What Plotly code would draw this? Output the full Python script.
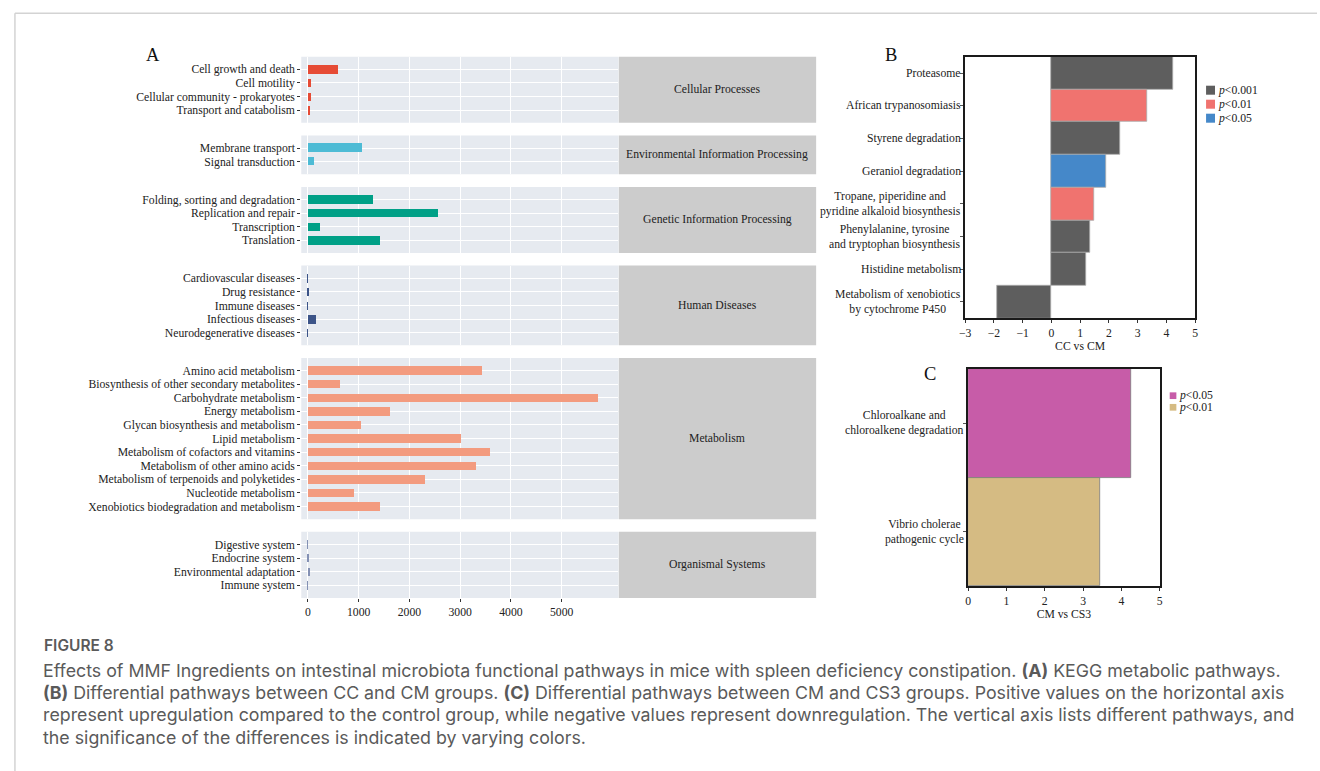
import plotly.graph_objects as go

W, H = 1320, 771
SERIF = "Liberation Serif"
SANS = "Inter"
TXT = "#222222"

# ---------------- Panel A: KEGG pathway abundance by level-1 category ----------------
kegg_groups = [
    "Cellular Processes",
    "Environmental Information Processing",
    "Genetic Information Processing",
    "Human Diseases",
    "Metabolism",
    "Organismal Systems",
]
cellular_pathways = ["Cell growth and death", "Cell motility",
                     "Cellular community - prokaryotes", "Transport and catabolism"]
cellular_values = [590, 65, 60, 50]
environmental_pathways = ["Membrane transport", "Signal transduction"]
environmental_values = [1070, 130]
genetic_pathways = ["Folding, sorting and degradation", "Replication and repair",
                    "Transcription", "Translation"]
genetic_values = [1290, 2570, 250, 1420]
disease_pathways = ["Cardiovascular diseases", "Drug resistance", "Immune diseases",
                    "Infectious diseases", "Neurodegenerative diseases"]
disease_values = [3, 35, 2, 170, 4]
metabolism_pathways = ["Amino acid metabolism", "Biosynthesis of other secondary metabolites",
                       "Carbohydrate metabolism", "Energy metabolism",
                       "Glycan biosynthesis and metabolism", "Lipid metabolism",
                       "Metabolism of cofactors and vitamins", "Metabolism of other amino acids",
                       "Metabolism of terpenoids and polyketides", "Nucleotide metabolism",
                       "Xenobiotics biodegradation and metabolism"]
metabolism_values = [3445, 645, 5720, 1625, 1055, 3030, 3600, 3310, 2315, 905, 1425]
organismal_pathways = ["Digestive system", "Endocrine system",
                       "Environmental adaptation", "Immune system"]
organismal_values = [3, 15, 55, 3]
group_colors = ["#E64B35", "#4DBBD5", "#00A087", "#3C5488", "#F39B7F", "#8491B4"]
a_ticks = [0, 1000, 2000, 3000, 4000, 5000]

# ---------------- Panel B: CC vs CM ----------------
b_pathways = ["Proteasome", "African trypanosomiasis", "Styrene degradation",
              "Geraniol degradation",
              "Tropane, piperidine and<br>pyridine alkaloid biosynthesis",
              "Phenylalanine, tyrosine<br>and tryptophan biosynthesis",
              "Histidine metabolism",
              "Metabolism of xenobiotics<br>by cytochrome P450"]
b_values = [4.22, 3.32, 2.40, 1.92, 1.48, 1.36, 1.20, -1.89]
b_significance = ["p<0.001", "p<0.01", "p<0.001", "p<0.05", "p<0.01",
                  "p<0.001", "p<0.001", "p<0.001"]
b_levels = ["p<0.001", "p<0.01", "p<0.05"]
b_level_colors = ["#5E5E5E", "#F0736F", "#4588C9"]

# ---------------- Panel C: CM vs CS3 ----------------
c_pathways = ["Chloroalkane and<br>chloroalkene degradation",
              "Vibrio cholerae<br>pathogenic cycle"]
c_values = [4.24, 3.45]
c_significance = ["p<0.05", "p<0.01"]
c_levels = ["p<0.05", "p<0.01"]
c_level_colors = ["#C75CA8", "#D5BB83"]


def fx(px):
    return px / W


def fy(py):
    return 1 - py / H


def p_label(s):
    return "<i>p</i>" + s[1:].replace("<", "&lt;")


fig = go.Figure()
layout = {}
shapes = []
annotations = []

# ---- facet panels of A ----
pathway_lists = [cellular_pathways, environmental_pathways, genetic_pathways,
                 disease_pathways, metabolism_pathways, organismal_pathways]
value_lists = [cellular_values, environmental_values, genetic_values,
               disease_values, metabolism_values, organismal_values]

ROW, PAD, GAP = 13.6, 0.93, 12.6
A_LEFT, A_RIGHT = 297.3, 616.7
STRIP_L, STRIP_R = 617.0, 815.7
top = 56.7
n_panels = len(kegg_groups)
for k, (grp, paths, vals, col) in enumerate(
        zip(kegg_groups, pathway_lists, value_lists, group_colors), start=1):
    n = len(paths)
    bottom = top + (n - 1 + 2 * PAD) * ROW
    sfx = "" if k == 1 else str(k)
    fig.add_trace(go.Bar(
        x=vals, y=paths, orientation="h", width=0.62,
        marker=dict(color=col, line=dict(width=0)),
        xaxis=f"x{sfx}", yaxis=f"y{sfx}", showlegend=False,
    ))
    last = (k == n_panels)
    layout[f"xaxis{sfx}"] = dict(
        domain=[fx(A_LEFT), fx(A_RIGHT)], anchor=f"y{sfx}",
        range=[-131, 6120], tickmode="array", tickvals=a_ticks,
        showgrid=True, gridcolor="white", gridwidth=1.2,
        zeroline=False, showline=False,
        showticklabels=last, ticks="outside" if last else "",
        ticklen=3, tickwidth=1, tickcolor="#333333",
        tickfont=dict(family=SERIF, size=11.7, color=TXT),
    )
    layout[f"yaxis{sfx}"] = dict(
        domain=[fy(bottom), fy(top)], anchor=f"x{sfx}",
        type="category", categoryorder="array", categoryarray=paths,
        tickmode="array", tickvals=paths, ticktext=paths,
        range=[n - 1 + PAD, -PAD],
        showgrid=True, gridcolor="white", gridwidth=1.2,
        zeroline=False, showline=False,
        ticks="outside", ticklen=3, tickwidth=1, tickcolor="#333333",
        tickfont=dict(family=SERIF, size=11.7, color=TXT),
    )
    # panel background
    shapes.append(dict(type="rect", layer="below", xref=f"x{sfx} domain", yref=f"y{sfx} domain",
                       x0=0, x1=1, y0=0, y1=1, fillcolor="#E6EAF0", line=dict(width=0)))
    # facet strip
    shapes.append(dict(type="rect", xref="paper", yref=f"y{sfx} domain",
                       x0=fx(STRIP_L), x1=fx(STRIP_R), y0=0, y1=1,
                       fillcolor="#CCCCCC", line=dict(width=0)))
    annotations.append(dict(text=grp, xref="paper", yref=f"y{sfx} domain",
                            x=fx((STRIP_L + STRIP_R) / 2), y=0.5,
                            xanchor="center", yanchor="middle", showarrow=False,
                            font=dict(family=SERIF, size=11.7, color=TXT)))
    top = bottom + GAP

# ---- Panel B ----
b_color_map = dict(zip(b_levels, b_level_colors))
fig.add_trace(go.Bar(
    x=b_values, y=list(range(len(b_pathways))), orientation="h", width=1.0,
    marker=dict(color=[b_color_map[s] for s in b_significance],
                line=dict(color="#ABABAB", width=0.8)),
    xaxis="x7", yaxis="y7", showlegend=False,
))
B_L, B_R, B_T, B_B = 965.7, 1197.3, 56.7, 318.3
axis_frame = dict(showline=True, mirror=True, linecolor="#1A1A1A", linewidth=1.5,
                  showgrid=False, zeroline=False)
layout["xaxis7"] = dict(
    domain=[fx(B_L), fx(B_R)], anchor="y7", range=[-3, 5], dtick=1, tick0=0,
    ticks="outside", ticklen=3, tickcolor="#333333",
    tickfont=dict(family=SERIF, size=11.7, color=TXT),
    title=dict(text="CC vs CM", font=dict(family=SERIF, size=11.7, color=TXT), standoff=0),
    **axis_frame)
layout["yaxis7"] = dict(
    domain=[fy(B_B), fy(B_T)], anchor="x7", range=[len(b_pathways) - 0.5, -0.5],
    tickmode="array", tickvals=list(range(len(b_pathways))), showticklabels=False,
    ticks="outside", ticklen=3, tickcolor="#555555", **axis_frame)
for i, name in enumerate(b_pathways):
    annotations.append(dict(text=name, xref="paper", yref="y7", x=fx(B_L - 2.5), y=i,
                            xanchor="right", yanchor="middle", align="center",
                            showarrow=False,
                            font=dict(family=SERIF, size=11.7, color=TXT)))
for j, (lvl, col) in enumerate(zip(b_levels, b_level_colors)):
    cy = 90.2 + 14 * j
    shapes.append(dict(type="rect", xref="paper", yref="paper",
                       x0=fx(1208.3), x1=fx(1217.3), y0=fy(cy + 4.5), y1=fy(cy - 4.5),
                       fillcolor=col, line=dict(width=0)))
    annotations.append(dict(text=p_label(lvl), xref="paper", yref="paper",
                            x=fx(1218.5), y=fy(cy), xanchor="left", yanchor="middle",
                            showarrow=False, font=dict(family=SERIF, size=11.7, color=TXT)))

# ---- Panel C ----
c_color_map = dict(zip(c_levels, c_level_colors))
fig.add_trace(go.Bar(
    x=c_values, y=list(range(len(c_pathways))), orientation="h", width=1.0,
    marker=dict(color=[c_color_map[s] for s in c_significance],
                line=dict(color="#7A7A7A", width=0.8)),
    xaxis="x8", yaxis="y8", showlegend=False,
))
C_L, C_R, C_T, C_B = 968.7, 1161.7, 369.0, 586.3
layout["xaxis8"] = dict(
    domain=[fx(C_L), fx(C_R)], anchor="y8", range=[0, 5], dtick=1, tick0=0,
    ticks="outside", ticklen=3, tickcolor="#333333",
    tickfont=dict(family=SERIF, size=11.7, color=TXT),
    title=dict(text="CM vs CS3", font=dict(family=SERIF, size=11.7, color=TXT), standoff=0),
    **axis_frame)
layout["yaxis8"] = dict(
    domain=[fy(C_B), fy(C_T)], anchor="x8", range=[len(c_pathways) - 0.5, -0.5],
    tickmode="array", tickvals=list(range(len(c_pathways))), showticklabels=False,
    ticks="outside", ticklen=3, tickcolor="#555555", **axis_frame)
for i, name in enumerate(c_pathways):
    annotations.append(dict(text=name, xref="paper", yref="y8", x=fx(C_L - 2.5), y=i,
                            xanchor="right", yanchor="middle", align="center",
                            showarrow=False,
                            font=dict(family=SERIF, size=11.7, color=TXT)))
for j, (lvl, col) in enumerate(zip(c_levels, c_level_colors)):
    cy = 395.7 + 11.6 * j
    shapes.append(dict(type="rect", xref="paper", yref="paper",
                       x0=fx(1171.7), x1=fx(1178.4), y0=fy(cy + 3.35), y1=fy(cy - 3.35),
                       fillcolor=col, line=dict(width=0)))
    annotations.append(dict(text=p_label(lvl), xref="paper", yref="paper",
                            x=fx(1179.3), y=fy(cy), xanchor="left", yanchor="middle",
                            showarrow=False, font=dict(family=SERIF, size=11.7, color=TXT)))

# ---- panel letters ----
for letter, (lx, ly) in zip(["A", "B", "C"], [(148, 55), (891.5, 55), (930, 374)]):
    annotations.append(dict(text=letter, xref="paper", yref="paper", x=fx(lx), y=fy(ly),
                            xanchor="center", yanchor="middle", showarrow=False,
                            font=dict(family=SERIF, size=18.5, color="#111111")))

# ---- page frame and caption ----
shapes.append(dict(type="line", xref="paper", yref="paper", x0=fx(9), x1=1,
                   y0=fy(13.3), y1=fy(13.3), line=dict(color="#D3D3D3", width=1.5)))
shapes.append(dict(type="line", xref="paper", yref="paper", x0=fx(9), x1=fx(9),
                   y0=fy(13.3), y1=0, line=dict(color="#D3D3D3", width=1.5)))

caption_title = "FIGURE 8"
caption_lines = [
    "Effects of MMF Ingredients on intestinal microbiota functional pathways in mice with spleen deficiency constipation. <b>(A)</b> KEGG metabolic pathways.",
    "<b>(B)</b> Differential pathways between CC and CM groups. <b>(C)</b> Differential pathways between CM and CS3 groups. Positive values on the horizontal axis",
    "represent upregulation compared to the control group, while negative values represent downregulation. The vertical axis lists different pathways, and",
    "the significance of the differences is indicated by varying colors.",
]
CAP_COLOR = "#5A5A5A"
annotations.append(dict(text=caption_title, xref="paper", yref="paper",
                        x=fx(36), y=fy(645.5), xanchor="left", yanchor="middle",
                        showarrow=False,
                        font=dict(family=SANS, size=15.5, color=CAP_COLOR, weight=600)))
# the base size sets the line pitch (1.3 x 17.1 px); each line is drawn slightly larger
caption_body = "<br>".join(f'<span style="font-size:17.8px">{ln}</span>' for ln in caption_lines)
annotations.append(dict(text=caption_body, xref="paper", yref="paper",
                        x=fx(35), y=fy(703.5), xanchor="left", yanchor="middle", align="left",
                        showarrow=False, font=dict(family=SANS, size=17.1, color=CAP_COLOR)))

fig.update_layout(
    width=W, height=H, margin=dict(l=0, r=0, t=0, b=0),
    paper_bgcolor="white", plot_bgcolor="white",
    bargap=0, showlegend=False,
    shapes=shapes, annotations=annotations,
    **layout,
)

fig.write_html("out.html")
